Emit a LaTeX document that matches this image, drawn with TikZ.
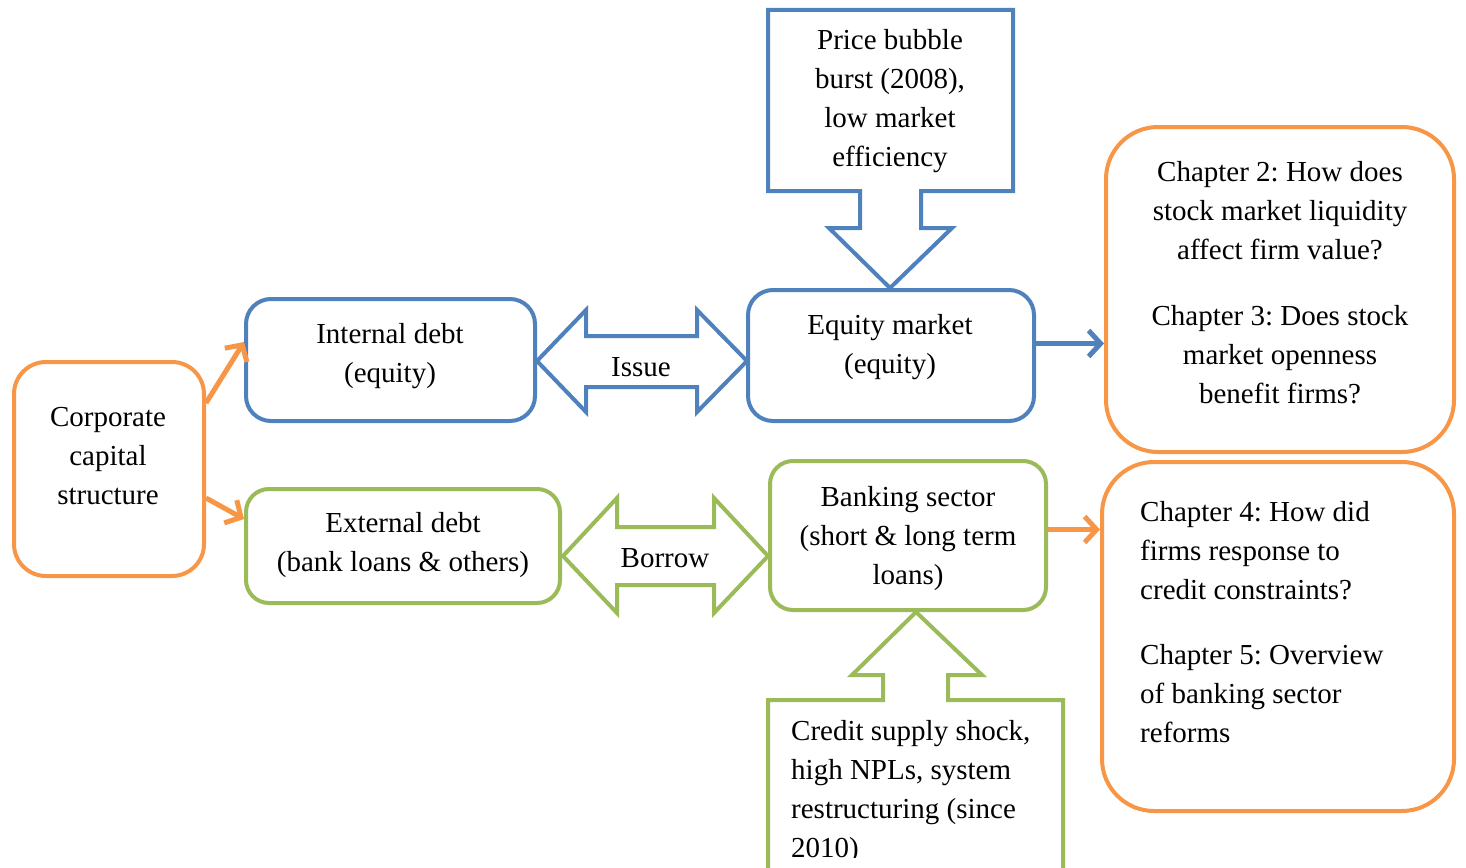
\documentclass[tikz,border=0pt]{standalone}
\usepackage{fontspec}
\setmainfont{Liberation Serif}
\usetikzlibrary{arrows.meta}
\definecolor{cblue}{HTML}{4F81BD}
\definecolor{corange}{HTML}{F79646}
\definecolor{cgreen}{HTML}{9BBB59}
\frenchspacing
\begin{document}
\begin{tikzpicture}[x=1pt,y=-1pt,
  every node/.style={font=\fontsize{29}{39}\selectfont, inner sep=0pt},
  box/.style={draw, line width=4pt, fill=white},
  bluebox/.style={box, draw=cblue, rounded corners=25pt},
  greenbox/.style={box, draw=cgreen, rounded corners=23pt},
  orangebox/.style={box, draw=corange},
  bigarrow/.style={line width=4pt, line join=miter, fill=white},
  oarrow/.style={line width=5pt, -{Straight Barb[length=12pt,width=26pt,line width=5pt]}},
  txt/.style={align=center}
]
\useasboundingbox (0,0) rectangle (1466,867);
\clip (0,0) rectangle (1466,867);

% boxes
\node[orangebox, rounded corners=32pt, minimum width=190pt, minimum height=214pt] (corp) at (109,469) {};
\node[bluebox, minimum width=289pt, minimum height=122pt] (int) at (390.5,360) {};
\node[bluebox, minimum width=286pt, minimum height=131pt] (eq) at (891,355.5) {};
\node[orangebox, rounded corners=52pt, minimum width=348pt, minimum height=325pt] (ch23) at (1280,289.5) {};
\node[greenbox, minimum width=314pt, minimum height=114pt] (ext) at (403,546) {};
\node[greenbox, minimum width=276pt, minimum height=149pt] (bank) at (908,535.5) {};
\node[orangebox, rounded corners=52pt, minimum width=352pt, minimum height=349pt] (ch45) at (1278,636.5) {};

% callouts
\draw[bigarrow, draw=cblue] (768,10) -- (1013,10) -- (1013,191) -- (921,191) -- (921,228) -- (952,228) -- (890,288) -- (829,228) -- (860,228) -- (860,191) -- (768,191) -- cycle;
\draw[bigarrow, draw=cgreen] (768,700) -- (883,700) -- (883,675) -- (852,675) -- (916,612) -- (982,675) -- (948,675) -- (948,700) -- (1063,700) -- (1063,890) -- (768,890) -- cycle;

% double arrows
\draw[bigarrow, draw=cblue] (537,361) -- (586,310) -- (586,336) -- (697,336) -- (697,310) -- (747,361) -- (697,412) -- (697,387) -- (586,387) -- (586,412) -- cycle;
\draw[bigarrow, draw=cgreen] (563,556) -- (617,498) -- (617,527) -- (714,527) -- (714,498) -- (768,556) -- (714,613) -- (714,585) -- (617,585) -- (617,613) -- cycle;

% connectors
\draw[oarrow, draw=corange] ([yshift=66pt]corp.east) -- ([yshift=18pt]int.west);
\draw[oarrow, draw=corange] ([yshift=-29pt]corp.east) -- ([yshift=27pt]ext.west);
\draw[oarrow, draw=cblue] ([yshift=12pt]eq.east) -- ([yshift=12pt]eq.east -| ch23.west);
\draw[oarrow, draw=corange] ([yshift=6pt]bank.east) -- ([yshift=6pt]bank.east -| ch45.west);

% texts
\node[txt] (tcorp) at (108,456) {Corporate\\capital\\structure};
\node[txt] (tint) at (390,356) {Internal debt\\(equity)};
\node[txt] (teq) at (890,347) {Equity market\\(equity)};
\node[txt] (tprice) at (890,101) {Price bubble\\burst (2008),\\low market\\efficiency};
\node[txt] (tissue) at (641,367) {Issue};
\node[txt] (tch23) at (1280,283) {Chapter 2: How does\\stock market liquidity\\affect firm value?\\[27pt]Chapter 3: Does stock\\market openness\\benefit firms?};
\node[txt] (text) at (403,545) {External debt\\(bank loans \& others)};
\node[txt] (tborrow) at (665,558) {Borrow};
\node[txt] (tbank) at (908,539) {Banking sector\\(short \& long term\\loans)};
\node[align=left, anchor=west] (tch45) at (1140,622) {Chapter 4: How did\\firms response to\\credit constraints?\\[26pt]Chapter 5: Overview\\of banking sector\\reforms};
\begin{scope}
\clip (768,700) rectangle (1063,857);
\node[align=left, anchor=west] (tcredit) at (791,792) {Credit supply shock,\\high NPLs, system\\restructuring (since\\2010)};
\end{scope}
\end{tikzpicture}
\end{document}
